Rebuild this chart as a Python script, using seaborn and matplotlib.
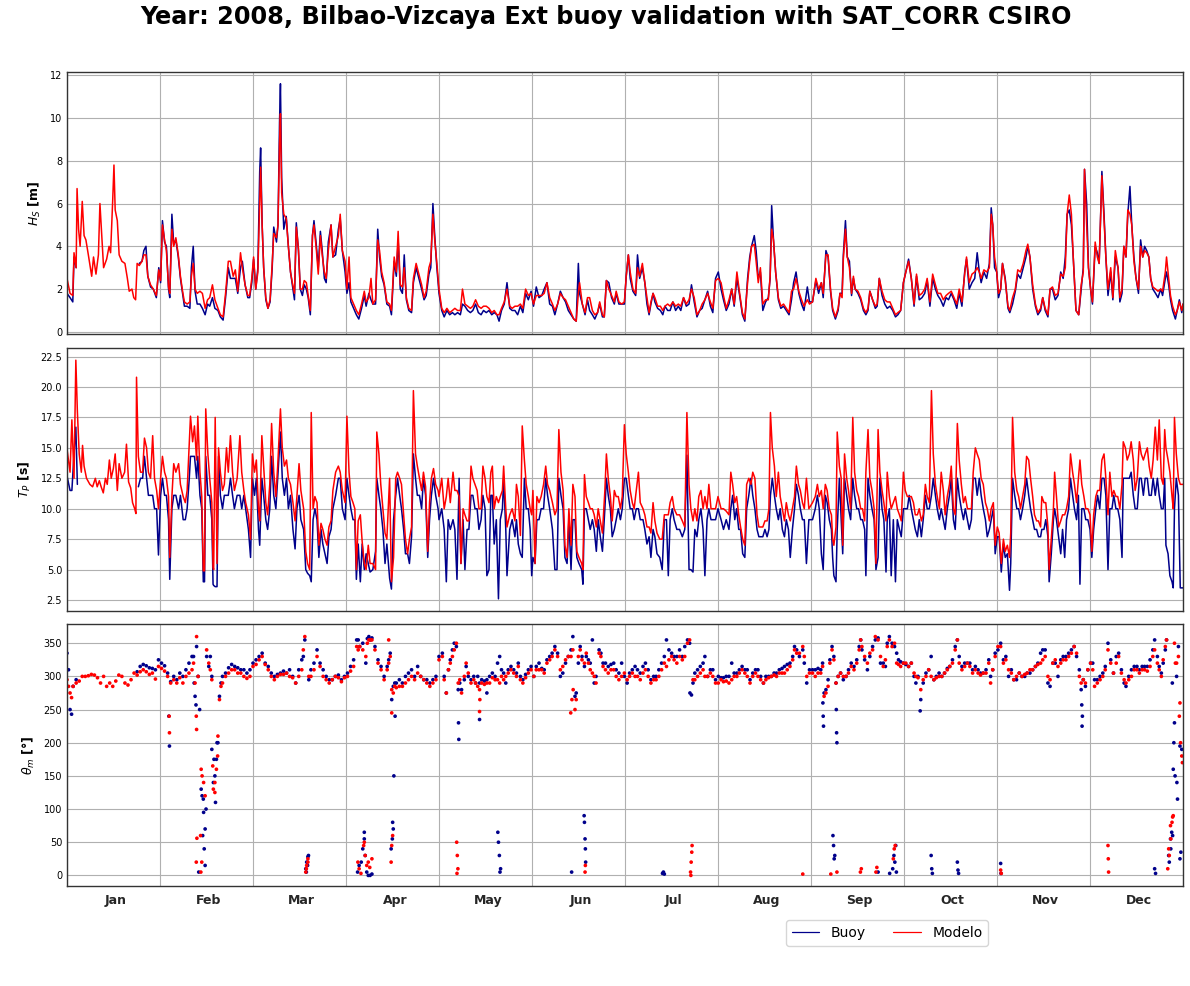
"""Bilbao-Vizcaya Ext buoy validation 2008: Hs, Tp and mean direction, buoy vs model."""
import numpy as np
import pandas as pd

import matplotlib
matplotlib.use("Agg")
import matplotlib.pyplot as plt
from matplotlib.lines import Line2D
import seaborn as sns

nan = np.nan

# ---------------------------------------------------------------------------
# data (time in day-of-year, 0..366)
# ---------------------------------------------------------------------------
t_hs = [
    0, 1, 1.9, 2.3, 3, 3.3, 3.8, 4.3, 5, 5.6,
    6.2, 7, 8.1, 8.7, 9.5, 10.3, 10.8, 12, 13, 13.8,
    14.3, 15, 15.4, 15.8, 16.5, 17.1, 18, 19, 19.8, 20.4,
    21.3, 21.9, 22.5, 23, 23.7, 24.6, 25.2, 25.9, 26.5, 27.4,
    28.3, 29.3, 30.1, 30.7, 31.3, 32, 32.6, 33.3, 33.7, 34.4,
    35, 35.7, 36.5, 37.2, 37.9, 38.5, 39.4, 40.3, 40.8, 41.4,
    42, 42.7, 43.6, 44.4, 45.3, 46.1, 46.8, 47.7, 48.5, 49.5,
    50.3, 51.2, 52, 52.9, 53.6, 54.5, 55.2, 56, 56.9, 57.5,
    58.4, 59.3, 59.9, 60.6, 61.2, 61.9, 62.6, 63.2, 63.5, 64,
    64.5, 65.2, 65.9, 66.6, 67.3, 67.8, 68.7, 69.2, 69.7, 70,
    70.4, 71.1, 71.9, 72.6, 73.3, 73.9, 74.6, 75.2, 75.9, 76.5,
    77.2, 77.8, 78.5, 79.1, 79.8, 80.5, 81, 81.8, 82.4, 83.1,
    83.7, 84.4, 85, 85.7, 86.6, 87.2, 88.1, 89, 89.6, 90.3,
    91.2, 91.8, 92.5, 93.1, 94, 94.9, 95.7, 96.6, 97.5, 98.1,
    99, 99.7, 100.3, 101.2, 101.9, 102.5, 103.2, 104, 104.9, 105.8,
    106.4, 107.3, 108, 108.6, 109.3, 110, 110.6, 111.3, 112.1, 113,
    113.6, 114.5, 115.4, 116.3, 117.1, 117.8, 118.7, 119.3, 120, 120.6,
    121.3, 122,
    122.9, 123.7, 124.6, 125.5, 126.4, 127.2, 128.1, 129, 129.7, 130.5,
    131.4, 132.3, 133.1, 134, 134.9, 135.8, 136.6, 137.5, 138.4, 139.3,
    140.1, 141, 141.7, 142.5, 143.4, 144.3, 145.2, 146, 146.9, 147.8,
    148.7, 149.5, 150.4, 151.3, 152.2, 153, 153.9, 154.8, 155.7, 156.5,
    157.4, 158.3, 159.2, 160, 160.9, 161.8, 162.7, 163.5, 164.4, 165.3,
    166.2, 167, 167.7, 168.1, 169, 169.9, 170.7, 171.4, 172.3, 173.1,
    174, 174.7, 175.6, 176.2, 176.9, 177.7, 178.6, 179.5, 180.1, 181,
    181.9, 182.8, 183.4, 184.1, 184.7, 185.6, 186.5, 187.1, 187.8, 188.7,
    189.5, 190.2, 190.9, 191.5, 192.2, 192.8, 193.7, 194.6, 195.4, 196.1,
    197, 197.8, 198.7, 199.6, 200.5, 201.3, 202.2, 203.1, 204, 204.8,
    205.7, 206.6, 207.5, 208.3, 209.2, 210.1, 211, 211.8, 212.7, 213.6,
    214.5, 215.3, 216.2, 217.1, 218, 218.8, 219.7, 220.6, 221.5, 222.3,
    223.2, 223.9, 224.5, 225.4, 226, 226.7, 227.4, 228.2, 229.1, 230,
    230.6, 231.1, 231.7, 232.4, 233.3, 234.1, 235, 235.9, 236.8, 237.6,
    238.3, 239.1, 240, 240.9, 241.7, 242.8, 243.5,
    244.5, 245.6, 246.5, 247.4, 248, 248.9, 249.6, 250.4, 251.1, 252,
    252.9, 253.5, 254.2, 254.6, 255.3, 255.9, 256.6, 257.3, 257.9, 258.5,
    259.4, 260.3, 261.2, 262, 262.7, 263.3, 264.2, 265.1, 265.7, 266.4,
    267.3, 268.2, 269, 269.9, 270.8, 271.7, 272.5, 273.4, 274.3, 275.1,
    276, 276.9, 277.8, 278.6, 279.5, 280.4, 281.3, 282.1, 283, 283.9,
    284.8, 285.6, 286.5, 287.4, 288.3, 289.1, 290, 290.9, 291.8, 292.6,
    293.5, 294.4, 295, 295.9, 296.8, 297.7, 298.5, 299.2, 299.8, 300.7,
    301.6, 302.5, 303.1, 303.6, 304.2, 304.9, 305.5, 306.2, 306.8, 307.7,
    308.6, 309.2, 310.1, 311, 311.8, 312.7, 313.6, 314.5, 315.1, 315.8,
    316.7, 317.6, 318.4, 319.3, 320, 320.8, 321.7, 322.4, 323.2, 324.1,
    325, 325.9, 326.7, 327.4, 328, 328.7, 329.4, 330, 330.9, 331.8,
    332.6, 333.3, 333.7, 334.4, 335, 335.7, 336.3, 337.2, 337.9, 338.5,
    338.9, 339.4, 340.1, 340.7, 341.4, 342.3, 343, 343.8, 344.7, 345.3,
    346, 346.6, 347.3, 347.9, 348.6, 349.2, 349.9, 350.6, 351.4, 352.1,
    352.8, 353.4, 354.1, 354.8, 355.4, 356.1, 357, 357.8, 358.7, 359.3,
    360.2, 360.6, 361.3, 361.9, 362.6, 363.5, 364.1, 364.8, 365.6, 366,
]
hs_buoy = [
    1.8, 1.6, 1.4, 3.5, 3.0, nan, nan, nan, nan, nan,
    nan, nan, nan, nan, nan, nan, nan, nan, nan, nan,
    nan, nan, nan, nan, nan, nan, nan, nan, nan, nan,
    nan, nan, nan, nan, 3.2, 3.3, 3.8, 4.0, 2.6, 2.1,
    2.0, 1.6, 3.0, 2.3, 5.2, 4.2, 4.0, 2.0, 1.6, 5.5,
    4.1, 4.3, 3.5, 2.5, 1.8, 1.2, 1.2, 1.1, 3.0, 4.0,
    1.9, 1.3, 1.3, 1.1, 0.8, 1.3, 1.2, 1.6, 1.1, 1.0,
    0.7, 0.55, 1.6, 3.0, 2.5, 2.5, 2.5, 1.8, 3.0, 3.3,
    2.2, 1.6, 1.6, 2.3, 3.4, 2.0, 3.0, 7.5, 8.6, 5.0,
    3.0, 1.5, 1.1, 1.4, 3.0, 4.9, 4.2, 5.0, 9.8, 11.6,
    7.2, 4.8, 5.4, 4.0, 2.8, 2.2, 1.5, 5.1, 3.8, 2.0,
    1.7, 2.2, 2.0, 1.6, 0.8, 4.5, 5.2, 4.0, 3.0, 4.7,
    3.8, 2.5, 2.3, 4.2, 5.0, 3.5, 3.6, 4.8, 5.3, 3.8,
    2.8, 1.8, 2.3, 1.4, 1.1, 0.8, 0.6, 1.1, 1.7, 1.2,
    1.8, 1.5, 1.3, 1.3, 4.8, 3.5, 2.6, 2.2, 1.3, 1.2,
    0.8, 3.3, 2.6, 4.3, 2.0, 1.8, 3.6, 1.5, 1.0, 0.9,
    2.3, 3.0, 2.5, 2.0, 1.5, 1.7, 2.7, 3.0, 6.0, 4.5,
    3.0, 1.8,
    1.0, 0.7, 1.0, 0.8, 0.9, 0.8, 0.9, 0.8, 1.3, 1.2,
    1.0, 0.9, 1.0, 1.3, 0.9, 0.8, 1.0, 0.9, 1.0, 0.8,
    0.9, 0.8, 0.5, 1.0, 1.3, 2.3, 1.1, 1.0, 1.0, 0.8,
    1.2, 0.9, 1.8, 1.5, 1.9, 1.2, 2.1, 1.6, 1.7, 2.0,
    2.3, 1.3, 1.2, 0.8, 1.3, 1.9, 1.6, 1.4, 1.0, 0.8,
    0.6, 0.5, 3.2, 1.8, 1.3, 0.8, 1.5, 1.0, 0.8, 0.6,
    0.9, 1.3, 0.7, 0.7, 2.4, 2.3, 1.6, 1.3, 1.8, 1.3,
    1.3, 1.3, 2.6, 3.6, 2.5, 1.9, 1.7, 3.6, 2.5, 3.0,
    2.3, 1.3, 0.8, 1.3, 1.8, 1.4, 1.1, 1.0, 0.8, 1.2,
    1.0, 1.0, 1.4, 1.0, 1.2, 1.0, 1.6, 1.2, 1.3, 2.2,
    1.4, 0.7, 1.0, 1.1, 1.5, 1.9, 1.2, 0.9, 2.5, 2.8,
    2.0, 1.5, 1.0, 1.3, 2.0, 1.2, 2.5, 1.7, 0.8, 0.5,
    2.5, 3.5, 4.0, 4.5, 3.8, 2.5, 2.8, 1.0, 1.4, 1.6,
    2.5, 5.9, 4.3, 2.8, 1.5, 1.1, 1.2, 1.0, 0.8, 1.5,
    2.3, 2.8, 1.8, 1.3, 1.0, 2.1, 1.4,
    1.4, 2.4, 1.8, 2.3, 1.6, 3.8, 3.5, 1.9, 1.0, 0.6,
    1.0, 1.8, 1.8, 3.6, 5.2, 3.5, 3.3, 1.7, 2.5, 2.0,
    1.8, 1.5, 1.0, 0.8, 1.0, 1.9, 1.5, 1.1, 1.2, 2.5,
    1.7, 1.3, 1.1, 1.2, 1.0, 0.7, 0.8, 1.0, 2.3, 2.8,
    3.4, 2.5, 1.2, 2.6, 1.5, 1.6, 1.8, 2.4, 1.2, 2.5,
    2.0, 1.7, 1.5, 1.2, 1.6, 1.5, 1.8, 1.5, 1.1, 1.8,
    1.2, 2.8, 3.4, 2.0, 2.3, 2.5, 3.7, 2.8, 2.3, 2.8,
    2.5, 3.2, 5.8, 5.0, 3.0, 2.8, 1.6, 2.0, 3.2, 2.5,
    1.1, 0.9, 1.3, 1.9, 2.7, 2.5, 3.0, 3.5, 4.0, 3.5,
    2.0, 1.2, 0.8, 1.0, 1.6, 1.0, 0.7, 2.0, 2.0, 1.5,
    1.7, 2.8, 2.5, 3.5, 5.5, 5.7, 5.0, 3.5, 1.0, 0.8,
    2.0, 3.0, 7.6, 6.0, 3.0, 2.0, 1.3, 4.0, 3.7, 3.2,
    5.0, 7.5, 5.5, 3.5, 1.7, 2.8, 1.5, 3.5, 3.0, 1.4,
    1.8, 4.0, 3.5, 5.5, 6.8, 5.0, 3.5, 2.5, 1.8, 4.3,
    3.5, 4.0, 3.8, 3.5, 2.5, 2.0, 1.8, 1.6, 2.0, 1.7,
    2.5, 2.8, 2.2, 1.5, 1.0, 0.6, 1.0, 1.5, 0.9, 1.3,
]
hs_model = [
    2.5, 1.8, 1.7, 3.7, 3.0, 6.7, 4.8, 4.0, 6.1, 4.5,
    4.3, 3.6, 2.6, 3.5, 2.7, 3.6, 6.0, 3.0, 3.4, 4.0,
    3.7, 6.2, 7.8, 5.7, 5.2, 3.6, 3.3, 3.2, 2.5, 1.9,
    2.0, 1.6, 1.5, 3.2, 3.1, 3.3, 3.6, 3.6, 2.6, 2.2,
    2.0, 1.7, 2.9, 2.4, 5.0, 4.3, 3.8, 2.1, 1.8, 4.8,
    4.0, 4.4, 3.6, 2.6, 1.9, 1.4, 1.3, 1.4, 2.6, 3.2,
    2.0, 1.8, 1.9, 1.8, 1.1, 1.5, 1.6, 2.2, 1.5, 1.1,
    0.8, 0.7, 1.8, 3.3, 3.3, 2.6, 2.9, 1.9, 3.7, 3.0,
    2.2, 1.7, 1.7, 2.5, 3.5, 2.0, 2.8, 6.0, 7.7, 5.0,
    3.0, 1.6, 1.1, 1.5, 3.2, 4.6, 4.4, 5.0, 8.8, 10.2,
    6.5, 5.5, 5.3, 4.0, 2.8, 2.3, 1.8, 4.9, 3.9, 2.0,
    2.0, 2.4, 2.3, 1.7, 1.0, 4.5, 5.0, 3.8, 2.7, 4.5,
    3.6, 2.8, 2.5, 3.8, 5.0, 3.5, 4.0, 4.5, 5.5, 3.8,
    3.3, 2.0, 3.5, 1.6, 1.3, 1.0, 0.8, 1.3, 1.9, 1.4,
    1.6, 2.5, 1.3, 1.5, 4.3, 3.8, 2.8, 2.3, 1.4, 1.3,
    1.0, 3.5, 2.8, 4.7, 2.2, 2.1, 3.0, 1.6, 1.1, 1.0,
    2.5, 3.2, 2.7, 2.2, 1.6, 1.9, 3.0, 3.3, 5.5, 4.3,
    3.2, 2.0,
    1.1, 0.9, 1.1, 0.9, 1.0, 1.1, 1.0, 1.0, 2.0, 1.3,
    1.2, 1.1, 1.2, 1.5, 1.2, 1.1, 1.2, 1.2, 1.1, 0.9,
    1.0, 0.8, 0.8, 1.1, 1.4, 2.0, 1.2, 1.1, 1.2, 1.2,
    1.3, 1.1, 2.0, 1.7, 1.8, 1.3, 1.7, 1.7, 1.7, 1.8,
    2.3, 1.6, 1.3, 1.0, 1.3, 1.8, 1.6, 1.5, 1.2, 0.9,
    0.6, 0.5, 1.8, 2.3, 1.3, 0.9, 1.6, 1.6, 1.0, 0.8,
    0.9, 1.4, 0.8, 0.7, 2.4, 2.0, 1.7, 1.4, 1.9, 1.4,
    1.3, 1.4, 2.6, 3.6, 2.8, 2.0, 1.8, 3.0, 2.6, 3.2,
    2.3, 1.6, 0.9, 1.4, 1.8, 1.6, 1.2, 1.2, 1.0, 1.2,
    1.3, 1.2, 1.4, 1.2, 1.3, 1.2, 1.6, 1.3, 1.5, 2.0,
    1.6, 0.8, 1.0, 1.3, 1.5, 1.8, 1.4, 1.1, 2.4, 2.5,
    2.3, 1.7, 1.1, 1.5, 2.0, 1.3, 2.8, 1.8, 0.9, 0.6,
    2.3, 3.3, 4.0, 4.1, 3.3, 2.3, 3.0, 1.3, 1.5, 1.5,
    2.6, 4.8, 4.3, 2.8, 1.6, 1.2, 1.3, 1.1, 0.9, 1.9,
    2.0, 2.5, 1.9, 1.5, 1.2, 1.5, 1.3,
    1.4, 2.5, 2.0, 2.3, 1.8, 3.6, 3.6, 2.0, 1.1, 0.7,
    1.1, 1.8, 1.6, 3.4, 4.8, 3.5, 3.0, 1.8, 2.6, 2.0,
    1.9, 1.6, 1.1, 0.9, 1.1, 1.9, 1.5, 1.2, 1.3, 2.5,
    1.9, 1.5, 1.4, 1.4, 1.1, 0.8, 0.9, 1.0, 2.3, 2.8,
    3.3, 2.5, 1.3, 2.7, 1.7, 1.8, 2.0, 2.5, 1.4, 2.7,
    2.2, 1.8, 1.8, 1.5, 1.7, 1.8, 1.9, 1.6, 1.3, 2.0,
    1.4, 2.7, 3.5, 2.3, 2.7, 2.8, 3.0, 2.8, 2.5, 2.9,
    2.8, 3.0, 5.5, 5.0, 3.5, 2.8, 1.8, 2.0, 3.2, 2.4,
    1.2, 1.0, 1.6, 2.0, 2.9, 2.8, 3.2, 3.8, 4.1, 3.5,
    2.2, 1.3, 0.9, 1.1, 1.6, 1.1, 0.8, 2.0, 2.1, 1.7,
    1.8, 2.7, 2.6, 3.0, 5.5, 6.4, 5.5, 3.5, 1.0, 0.8,
    2.2, 2.8, 7.6, 5.0, 3.0, 2.0, 1.4, 4.2, 3.5, 3.2,
    5.0, 7.3, 5.3, 3.5, 2.0, 3.0, 1.6, 3.8, 3.0, 1.6,
    2.0, 4.0, 3.5, 5.7, 5.5, 5.0, 3.3, 2.5, 2.0, 4.0,
    3.5, 3.8, 3.7, 3.5, 2.5, 2.1, 2.0, 1.9, 2.0, 1.9,
    2.8, 3.5, 2.5, 1.7, 1.2, 0.8, 1.0, 1.4, 1.0, 1.3,
]

t_tp = [
    0, 1, 1.6, 2.3, 2.9, 3.4, 4, 4.7, 5.1, 5.6,
    6.4, 7.5, 8.4, 9.3, 9.9, 10.6, 11.2, 11.9, 12.6, 13.2,
    13.9, 14.5, 15.2, 15.8, 16.5, 17.1, 18, 18.9, 19.5, 20.2,
    20.9, 21.5, 22.2, 22.6, 22.8, 23.4, 24.1, 24.8, 25.4, 26.1,
    26.7, 27.4, 28.1, 28.7, 29.4, 30, 30.7, 31.3, 32, 32.6,
    33.3, 33.7, 34.4, 35, 35.7, 36.6, 37.2, 38.1, 38.8, 39.4,
    40.1, 40.5, 41.2, 41.8, 42.5, 42.9, 43.6, 44.2, 44.7, 45.1,
    45.5, 46.2, 46.8, 47.5, 47.9, 48.1, 48.6, 49.2, 49.7, 50.3,
    51, 51.6, 52.3, 52.9, 53.6, 54.3, 54.9, 55.8, 56.7, 57.3,
    58, 58.6, 59.5, 60.2, 60.8, 61.5, 62.1, 62.8, 63.2, 63.9,
    64.5, 65.2, 65.8, 66.5, 67.1, 67.8, 68.5, 69.1, 70, 70.6,
    71.3, 72, 72.6, 73.3, 74.1, 74.8, 75.4, 76.1, 76.7, 77.6,
    78.3, 78.9, 79.6, 80.1, 80.7, 81.3, 82, 82.6, 83.3, 83.9,
    84.6, 85.3, 85.9, 86.6, 87.2, 88.1, 89, 89.6, 90.3, 91.2,
    91.8, 92.5, 93.1, 93.8, 94.4, 94.9, 95.5, 96.2, 96.8, 97.5,
    98.1, 98.8, 99.4, 100.3, 101.2, 101.6, 102.3, 102.9, 103.6, 104.3,
    104.9, 105.8, 106.4, 107.1, 107.8, 108.4, 109.1, 109.7, 110.4, 111,
    111.7, 112.3, 113, 113.6, 114.3, 114.9, 115.6, 116.3, 116.9, 117.6,
    118.3, 118.9, 119.5, 120.2, 120.9, 121.7,
    122, 122.9, 123.7, 124.4, 125, 125.7, 126.6, 127.2, 127.9, 128.6,
    129.2, 129.9, 130.5, 131.2, 131.8, 132.5, 133.1, 133.8, 134.5, 135.1,
    135.8, 136.4, 137.1, 137.7, 138.4, 139, 139.5, 140.1, 140.8, 141.5,
    142.1, 142.8, 143.2, 143.9, 144.3, 145.2, 146, 146.9, 147.4, 148,
    148.7, 149.3, 150, 150.6, 151.3, 151.9, 152.4, 152.8, 153.5, 154.1,
    154.8, 155.5, 156.3, 157, 157.6, 158.3, 159.2, 160, 160.7, 161.3,
    162, 162.7, 163.3, 164, 164.6, 165.3, 165.9, 166.6, 167.2, 167.9,
    168.8, 169.2, 169.7, 170.3, 171, 171.6, 172.3, 172.9, 173.6, 174.2,
    174.9, 175.6, 176.4, 176.9, 177.5, 178.2, 178.8, 179.5, 180.1, 180.8,
    181.5, 182.1, 182.8, 183.4, 184.1, 184.7, 185.4, 186, 186.7, 187.4,
    188, 188.9, 189.5, 190.2, 190.9, 191.5, 192.2, 192.8, 193.5, 194.4,
    195.2, 195.9, 196.6, 197.2, 197.8, 198.5, 199.1, 200, 200.9, 201.8,
    202.6, 203.3, 204, 204.6, 205.3, 205.9, 206.6, 207.2, 207.9, 208.6,
    209.2, 209.9, 210.5, 211.2, 212, 212.7, 213.5, 214.5, 215.3, 216.2,
    217.1, 217.7, 218.3, 219, 219.6, 220.3, 220.9, 221.6, 222.3, 222.9,
    223.6, 224.3, 224.9, 225.6, 226.3, 226.9, 227.6, 228.2, 228.9, 229.6,
    230.2, 230.7, 231.3, 232, 232.6, 233.3, 233.9, 234.6, 235.3, 235.9,
    236.6, 237.2, 237.9, 238.6, 239.2, 239.9, 240.5, 241.2, 241.8, 242.5,
    243.3,
    244.5, 245.4, 246.1, 246.7, 247.4, 248, 248.7, 249.3, 250, 250.7,
    251.1, 251.5, 252.2, 252.6, 253.3, 253.9, 254.4, 255, 255.7, 256.3,
    257, 257.7, 258.3, 259, 259.6, 260.3, 260.9, 261.6, 262, 262.7,
    263.3, 264, 264.7, 265.3, 266, 266.6, 267.3, 267.9, 268.6, 269,
    269.7, 270.3, 271, 271.7, 272.3, 273, 273.6, 274.3, 274.9, 275.6,
    276.2, 276.9, 277.6, 278.2, 278.9, 279.5, 280.2, 280.8, 281.5, 282.1,
    282.8, 283.5, 284.1, 284.8, 285.4, 286.1, 286.7, 287.4, 288, 288.7,
    289.4, 290, 290.7, 291.3, 292, 292.6, 293.3, 294, 294.6, 295.3,
    295.9, 296.6, 297.2, 297.9, 298.5, 299.2, 299.8, 300.5, 301.2, 301.8,
    302.5, 303.1, 303.8, 304.4, 305.1, 305.7, 306.4, 307.1, 307.7, 308.4,
    309.1, 309.5, 310.1, 310.8, 311.5, 312.1, 312.7, 313.4, 314.1, 314.7,
    315.4, 316, 316.7, 317.3, 318, 318.6, 319.3, 319.7, 320.4, 321,
    321.7, 322.1, 322.8, 323.5, 323.9, 324.5, 325.2, 325.9, 326.5, 327.2,
    327.8, 328.5, 329.1, 329.8, 330.4, 331.1, 331.7, 332.2, 332.8, 333.5,
    334.1, 334.8, 335.5, 336.1, 336.7, 337.4, 338, 338.7, 339.4, 340.1,
    340.7, 341.4, 342, 342.7, 343.3, 344, 344.6, 345.3, 346, 346.4,
    347.1, 347.7, 348.4, 349, 349.7, 350.3, 351, 351.7, 352.3, 353,
    353.6, 354.3, 354.9, 355.6, 356.2, 356.9, 357.6, 358.2, 358.9, 359.5,
    360, 360.4, 361.1, 361.7, 362.4, 362.8, 363.2, 363.8, 364.5, 365.1, 366,
]
tp_buoy = [
    12.7, 11.5, 11.5, 14.5, 16.7, 12.0, nan, nan, nan, nan,
    nan, nan, nan, nan, nan, nan, nan, nan, nan, nan,
    nan, nan, nan, nan, nan, nan, nan, nan, nan, nan,
    nan, nan, nan, nan, nan, 11.8, 12.5, 12.5, 14.3, 12.5,
    11.1, 11.1, 11.1, 10.0, 10.0, 6.2, 11.1, 12.5, 11.1, 11.1,
    9.1, 4.2, 10.0, 11.1, 11.1, 10.0, 11.1, 9.1, 9.1, 10.0,
    12.5, 14.3, 14.3, 14.3, 12.5, 14.3, 11.1, 10.0, 4.0, 4.0,
    14.3, 11.1, 11.1, 9.1, 3.8, 3.7, 3.6, 3.6, 14.3, 11.1,
    10.0, 11.1, 11.1, 11.1, 12.5, 11.1, 10.0, 11.1, 11.1, 10.0,
    11.1, 10.0, 8.3, 6.0, 12.5, 11.1, 12.5, 8.3, 7.0, 12.5,
    11.1, 9.1, 8.3, 10.0, 14.3, 11.1, 10.0, 12.5, 16.3, 12.5,
    11.1, 12.5, 10.0, 11.1, 8.3, 6.7, 10.0, 11.1, 9.1, 8.3,
    5.0, 4.7, 4.5, 4.0, 9.1, 10.0, 9.1, 6.0, 8.3, 7.1,
    6.3, 5.5, 7.7, 8.3, 10.0, 11.1, 12.5, 12.5, 10.0, 9.1,
    12.5, 11.1, 10.0, 9.1, 9.1, 4.2, 7.1, 4.0, 7.1, 5.0,
    6.3, 5.5, 4.8, 5.0, 6.5, 12.5, 11.1, 10.0, 8.3, 5.5,
    7.1, 4.3, 3.4, 9.1, 11.1, 12.5, 11.1, 10.0, 8.3, 6.3,
    6.3, 5.5, 7.7, 14.5, 12.5, 11.1, 11.1, 10.0, 12.5, 11.1,
    6.0, 9.1, 11.1, 12.5, 11.1, 10.0,
    9.1, 10.0, 8.3, 4.0, 9.1, 8.3, 9.1, 8.3, 4.2, 12.5,
    5.5, 9.1, 5.0, 8.3, 8.3, 11.1, 11.1, 10.0, 10.0, 8.3,
    9.1, 11.1, 10.0, 4.5, 5.0, 11.1, 11.1, 7.1, 9.1, 2.6,
    9.1, 10.0, 12.5, 8.3, 4.5, 8.3, 9.1, 7.7, 9.1, 7.1,
    6.3, 6.0, 12.5, 10.0, 10.0, 8.3, 4.5, 6.0, 5.5, 9.1,
    9.1, 10.0, 10.0, 12.5, 11.1, 10.0, 8.3, 5.0, 5.0, 12.5,
    11.1, 10.0, 6.0, 5.5, 9.1, 5.0, 9.1, 9.1, 6.0, 5.5,
    5.0, 3.8, 10.0, 10.0, 9.1, 8.3, 9.1, 8.3, 6.5, 9.1,
    7.7, 6.5, 10.0, 12.5, 11.1, 10.0, 7.7, 8.3, 9.1, 10.0,
    9.1, 10.0, 12.5, 12.5, 11.1, 10.0, 10.0, 9.1, 10.0, 10.0,
    9.1, 9.1, 8.3, 7.1, 7.7, 6.0, 8.3, 7.7, 6.3, 6.0,
    5.0, 9.1, 9.1, 4.5, 9.1, 10.0, 9.1, 8.3, 8.3, 7.7,
    8.3, 14.4, 5.0, 5.0, 4.8, 8.3, 7.7, 9.1, 10.0, 8.3,
    4.5, 9.1, 10.0, 9.1, 9.1, 9.1, 10.0, 9.1, 8.3, 9.1,
    8.3, 10.0, 11.1, 9.1, 10.0, 8.3, 8.3, 6.3, 6.0, 10.0,
    11.1, 12.5, 11.1, 10.0, 8.3, 7.7, 7.7, 7.7, 8.3, 7.7,
    8.3, 11.1, 12.5, 11.1, 10.0, 9.1, 10.0, 8.3, 7.7, 9.1,
    8.3, 6.0, 8.3, 10.0, 12.0, 11.1, 10.0, 9.1, 9.1, 5.5,
    9.1,
    9.1, 10.0, 11.1, 10.0, 6.3, 5.0, 11.1, 10.5, 9.1, 8.3,
    6.0, 4.5, 4.0, 8.3, 12.5, 9.1, 6.3, 12.5, 11.1, 10.0,
    9.1, 12.5, 11.1, 10.0, 10.0, 9.1, 9.1, 8.3, 4.5, 12.5,
    11.1, 10.0, 9.1, 5.0, 6.0, 12.5, 10.0, 9.1, 4.8, 9.1,
    10.0, 4.5, 9.1, 4.0, 9.1, 8.3, 7.7, 10.0, 10.0, 10.0,
    11.1, 10.0, 9.1, 8.3, 7.7, 9.1, 7.7, 9.1, 11.1, 10.0,
    10.0, 11.1, 12.5, 11.1, 10.0, 9.1, 10.0, 9.1, 8.3, 10.0,
    11.1, 12.5, 9.1, 8.3, 12.5, 11.1, 10.0, 9.1, 10.0, 9.1,
    8.3, 9.1, 12.5, 12.5, 11.1, 12.5, 11.1, 10.0, 9.1, 7.7,
    8.3, 9.1, 10.0, 6.3, 7.7, 7.7, 4.8, 7.1, 6.0, 6.3,
    3.3, 5.5, 12.5, 11.1, 10.0, 10.0, 9.1, 10.0, 11.1, 12.5,
    11.1, 10.0, 9.1, 8.3, 8.3, 7.7, 7.7, 8.3, 8.3, 9.1,
    7.7, 4.0, 6.3, 9.1, 10.0, 9.1, 7.7, 6.3, 8.3, 6.0,
    9.1, 10.0, 12.5, 11.1, 10.0, 9.1, 11.1, 3.8, 10.0, 10.0,
    9.1, 9.1, 8.3, 6.0, 8.3, 10.0, 11.1, 10.0, 12.5, 12.5,
    11.1, 5.0, 10.0, 10.0, 11.1, 10.0, 10.0, 9.1, 6.0, 12.5,
    12.5, 12.5, 12.5, 13.0, 11.1, 10.0, 10.0, 12.5, 12.5, 11.1,
    12.5, 12.5, 11.1, 11.1, 12.5, 11.1, 12.5, 11.1, 10.0, 10.0,
    12.5, 7.0, 6.3, 4.5, 4.0, 3.5, 10.0, 12.5, 11.1, 3.5, 3.5,
]
tp_model = [
    14.9, 13.0, 17.3, 12.5, 22.2, 18.0, 14.5, 13.0, 15.2, 13.5,
    12.5, 12.0, 11.8, 12.5, 11.8, 12.3, 11.8, 11.3, 12.5, 12.0,
    14.0, 12.5, 13.3, 14.5, 11.5, 13.7, 12.5, 13.0, 15.3, 12.2,
    11.7, 10.5, 10.0, 9.6, 20.8, 14.3, 13.0, 13.0, 15.8, 15.0,
    13.0, 12.5, 16.0, 12.5, 11.5, 10.0, 12.5, 14.3, 13.0, 12.5,
    11.0, 6.0, 11.0, 13.7, 13.0, 13.7, 12.0, 11.0, 10.5, 11.5,
    15.5, 17.6, 15.5, 16.8, 14.0, 17.6, 13.0, 11.0, 4.9, 4.9,
    18.2, 14.5, 12.5, 10.5, 5.2, 5.0, 17.5, 5.5, 15.0, 13.0,
    11.5, 12.0, 15.0, 13.0, 16.0, 13.0, 11.5, 12.5, 16.0, 13.0,
    11.5, 10.5, 9.5, 7.5, 14.5, 13.0, 14.0, 10.0, 9.0, 16.0,
    13.5, 10.5, 9.5, 12.0, 17.0, 13.0, 11.0, 13.5, 18.2, 15.0,
    13.5, 14.0, 12.5, 12.0, 10.5, 9.0, 11.0, 13.7, 11.5, 10.0,
    6.5, 5.5, 5.0, 17.9, 10.0, 11.0, 10.5, 7.0, 8.8, 8.3,
    7.5, 7.0, 8.5, 9.0, 11.5, 13.0, 13.5, 13.0, 11.5, 10.5,
    17.6, 13.0, 11.0, 10.5, 10.0, 5.0, 9.0, 9.5, 7.3, 5.5,
    5.0, 7.0, 5.5, 5.5, 5.0, 16.3, 14.5, 12.0, 10.0, 8.0,
    7.5, 12.5, 4.0, 6.0, 12.5, 13.0, 12.5, 12.0, 9.5, 7.5,
    6.3, 7.5, 8.5, 19.7, 14.5, 13.5, 12.5, 11.5, 13.0, 11.8,
    6.5, 10.5, 12.5, 13.3, 12.0, 11.5,
    11.0, 12.5, 10.0, 11.0, 12.5, 10.5, 13.0, 11.5, 11.5, 11.0,
    5.5, 10.0, 9.5, 9.0, 9.0, 13.5, 12.5, 12.0, 11.5, 10.0,
    10.0, 13.5, 12.5, 11.0, 10.5, 13.0, 13.5, 10.0, 11.0, 10.5,
    11.0, 11.5, 13.5, 10.0, 8.5, 9.5, 10.0, 9.0, 12.0, 11.0,
    7.8, 16.8, 14.0, 12.0, 11.0, 10.0, 9.5, 11.5, 5.5, 11.0,
    10.5, 11.0, 12.0, 13.5, 12.0, 11.5, 10.5, 9.5, 10.0, 16.5,
    13.0, 11.5, 7.0, 6.0, 10.0, 7.0, 12.0, 11.0, 6.5, 6.0,
    5.5, 5.0, 12.8, 11.0, 10.5, 10.0, 10.0, 9.5, 8.5, 10.0,
    9.0, 8.0, 11.5, 14.5, 12.5, 11.0, 9.0, 11.5, 11.0, 11.0,
    10.0, 11.0, 16.9, 14.5, 13.0, 11.5, 10.5, 10.0, 11.5, 13.0,
    10.5, 10.0, 9.5, 8.5, 8.5, 8.0, 10.5, 9.0, 8.0, 7.5,
    7.5, 9.5, 9.5, 9.5, 10.5, 11.0, 10.0, 9.5, 9.5, 9.0,
    8.5, 17.9, 12.0, 10.0, 9.0, 10.0, 9.0, 11.0, 11.5, 10.0,
    11.0, 10.0, 12.0, 10.0, 10.0, 10.0, 11.0, 10.0, 10.0, 9.8,
    9.5, 13.0, 12.0, 10.5, 11.0, 9.5, 8.5, 7.5, 7.0, 12.0,
    12.5, 12.0, 13.0, 12.5, 9.5, 8.5, 8.5, 8.5, 9.0, 9.0,
    10.0, 17.9, 15.0, 13.5, 11.0, 13.0, 11.0, 10.0, 9.0, 10.5,
    9.5, 9.0, 10.0, 11.0, 13.5, 12.0, 11.5, 10.5, 10.0, 12.5,
    10.0,
    10.5, 11.0, 12.0, 11.0, 11.5, 10.0, 12.0, 11.5, 10.0, 9.5,
    7.5, 7.0, 8.5, 16.3, 13.5, 12.5, 7.0, 14.5, 12.5, 11.5,
    10.0, 17.5, 13.0, 11.5, 11.0, 10.0, 10.0, 9.0, 13.0, 16.5,
    12.5, 11.5, 10.0, 5.5, 16.5, 13.0, 11.5, 10.5, 9.0, 13.0,
    11.0, 10.0, 10.5, 11.0, 10.0, 9.5, 9.0, 13.0, 11.5, 11.0,
    11.0, 11.0, 10.5, 9.5, 9.5, 10.0, 9.0, 9.5, 12.0, 11.0,
    10.5, 19.7, 14.5, 12.0, 11.0, 10.0, 13.0, 11.5, 9.5, 11.0,
    12.0, 13.5, 10.0, 9.5, 17.0, 14.0, 12.0, 10.5, 11.0, 10.0,
    10.0, 10.0, 13.0, 15.0, 14.5, 14.0, 12.5, 12.0, 10.5, 10.0,
    9.0, 10.0, 10.5, 7.0, 8.5, 8.0, 5.5, 7.5, 6.5, 7.0,
    6.0, 8.0, 17.5, 13.0, 11.5, 11.0, 10.0, 11.0, 12.0, 14.3,
    14.0, 12.5, 11.0, 9.5, 9.0, 9.0, 8.5, 11.0, 10.5, 10.5,
    8.5, 5.0, 7.5, 10.0, 13.0, 11.0, 8.5, 9.0, 9.5, 9.5,
    10.0, 11.0, 14.5, 13.0, 12.0, 10.5, 12.5, 14.0, 12.0, 11.0,
    10.0, 10.0, 9.5, 6.5, 9.5, 11.0, 11.5, 11.5, 14.0, 14.5,
    12.5, 9.5, 13.0, 11.0, 11.5, 11.0, 11.0, 10.0, 12.0, 15.5,
    15.0, 14.0, 14.5, 15.5, 14.0, 11.5, 12.5, 15.5, 14.5, 14.0,
    14.5, 15.0, 13.5, 12.5, 14.0, 16.7, 14.0, 17.3, 12.5, 12.0,
    16.5, 15.0, 14.0, 13.0, 11.0, 10.0, 17.5, 14.5, 12.5, 12.0, 12.0,
]

t_dir = [
    0, 0.5, 1, 1.5, 2, 3, 4, 5, 6, 7,
    8, 9, 10, 11, 12, 13, 14, 15, 16, 17,
    18, 19, 20, 21, 22, 23, 24, 25, 26, 27,
    28, 29, 30, 31, 32, 33, 34, 35, 36, 37,
    38, 39, 40, 41, 41.5, 42, 42.5, 43, 44, 44.3,
    44.8, 45.3, 45.8, 46.5, 47, 47.5, 48, 48.5, 49, 49.5,
    50, 50.5, 51, 52, 53, 54, 55, 56, 57, 58,
    59, 60, 61, 62, 63, 64, 65, 66, 67, 68,
    69, 70, 71, 72, 73, 74, 75, 76, 77, 77.5,
    78, 78.3, 78.6, 79, 79.3, 80, 81, 82, 83, 84,
    85, 86, 87, 88, 89, 90, 91, 92, 93, 94,
    95, 95.5, 96, 97, 97.5, 98, 98.5, 99, 99.5, 100,
    101, 102, 103, 104, 105, 105.5, 106, 106.5, 107, 107.5,
    108, 109, 110, 111, 112, 113, 114, 115, 116, 117,
    118, 119, 120, 121, 122, 123.1, 123.7, 124.4, 125.1, 125.7,
    126.4, 127, 127.7, 128.3, 128.8, 129.4, 130.3, 130.9, 131.6, 132.5,
    133.4, 134, 134.7, 135.3, 136, 136.9, 137.7, 138.6, 139.5, 140.4,
    141.2, 141.9, 142.5, 143.2, 143.9, 144.7, 145.6, 146.5, 147.4, 148,
    148.7, 149.5, 150.4, 151.3, 152.2, 153.1, 153.9, 154.8, 155.7, 156.5,
    157.4, 158.3, 159.1, 160, 160.9, 161.8, 162.6, 163.5, 164.4, 165.3,
    165.9, 166.6, 167, 167.7, 168.3, 168.9, 169.7, 170.3, 171, 171.6,
    172.3, 172.9, 173.5, 174.5, 175.1, 175.8, 176.6, 177.5, 178.4, 179.3,
    180.1, 181, 181.9, 182.8, 183.7, 184.5, 185.4, 186.3, 187.1, 188,
    188.9, 189.7, 190.6, 191.5, 192.4, 193.2, 194.1, 195, 195.9, 196.6,
    197.4, 198.3, 199.1, 200, 200.9, 201.8, 202.6, 203.5, 204.2, 204.8,
    205.3, 205.9, 206.8, 207.7, 208.6, 209.2, 210.1, 211, 211.8, 212.7,
    213.6, 214.5, 215.3, 216.2, 217.1, 218, 218.8, 219.7, 220.5, 221.4,
    222.3, 223.1, 224, 224.9, 225.8, 226.6, 227.5, 228.4, 229.2, 230.1,
    231, 231.9, 232.7, 233.6, 234.5, 235.3, 236.2, 237.1, 238, 238.6,
    239.3, 240.2, 241.3, 241.8, 242.6, 243.5, 244.5, 245.4, 246.3, 247.2,
    247.8, 248.3, 248.9, 249.6, 250.2, 250.9, 251.5, 252.2, 252.9, 253.7,
    254.6, 255.5, 256.3, 257.2, 258.1, 259, 259.8, 260.3, 260.7, 261.6,
    262.5, 263.3, 264.2, 265.1, 266, 266.8, 267.7, 268.4, 269, 269.7,
    270.6, 271.4, 272.1, 272.7, 273.4, 274.3, 275.1, 276, 276.9, 277.8,
    278.4, 279.1, 280, 280.8, 281.7, 282.6, 283.4, 284.3, 285.1, 286,
    286.9, 287.8, 288.7, 289.5, 290.4, 291.3, 292, 292.6, 293.5, 294.4,
    295.3, 296.1, 297, 297.9, 298.8, 299.6, 300.5, 301.4, 302.3, 302.9,
    303.6, 304.4, 305.3, 306.2, 307.1, 307.9, 308.8, 309.7, 310.5, 311.4,
    312.3, 313.2, 314.1, 314.9, 315.8, 316.7, 317.6, 318.4, 319.3, 320,
    320.8, 321.7, 322.4, 323.3, 324.1, 325, 325.9, 326.7, 327.6, 328.5,
    329.4, 330.3, 331.1, 332, 332.6, 333.3, 334, 334.8, 335.7, 336.4,
    337, 337.9, 338.8, 339.7, 340.5, 341.4, 342.3, 343.2, 344.1, 344.9,
    345.8, 346.7, 347.3, 348.2, 349.1, 350, 350.9, 351.7, 352.6, 353.4,
    354.3, 355.2, 356.1, 356.7, 357.6, 358.2, 358.9, 359.5, 360.2, 360.6,
    361.3, 361.9, 362.6, 363.2, 363.9, 364.5, 365, 365.6,
]
dir_buoy = [
    335, 310, 250, 243, 285, 295, nan, nan, nan, nan,
    nan, nan, nan, nan, nan, nan, nan, nan, nan, nan,
    nan, nan, nan, nan, nan, 307, 315, 318, 316, 313,
    312, 310, 325, 320, 316, 305, 292, 300, 295, 305,
    300, 310, 320, 330, 330, 270, 345, 300, 130, 120,
    95, 70, 330, 315, 330, 300, 140, 150, 175, 200,
    270, 290, 300, 305, 313, 318, 315, 313, 310, 310,
    305, 310, 320, 325, 330, 335, 320, 315, 305, 300,
    303, 305, 308, 305, 310, 300, 290, 310, 325, 330,
    355, 10, 20, 28, 295, 310, 320, 340, 320, 310,
    300, 295, 295, 300, 302, 295, 300, 305, 315, 325,
    355, 355, 345, 350, 55, 320, 357, 360, 355, 358,
    345, 325, 315, 300, 315, 325, 335, 265, 285, 290,
    290, 295, 290, 300, 305, 310, 300, 315, 300, 295,
    295, 290, 295, 300, 330, 335, 300, 275, 310, 325,
    340, 350, 345, 280, 290, 280, 295, 315, 300, 295,
    300, 290, 300, 290, 295, 293, 295, 300, 305, 300,
    320, 330, 310, 305, 290, 310, 315, 310, 305, 320,
    300, 295, 303, 310, 315, 300, 315, 320, 312, 310,
    325, 330, 335, 345, 335, 300, 305, 320, 330, 340,
    360, 270, 275, 320, 345, 330, 315, 330, 325, 320,
    355, 290, 300, 340, 335, 320, 320, 315, 318, 320,
    310, 305, 320, 300, 290, 305, 310, 315, 310, 305,
    315, 320, 310, 295, 300, 300, 310, 320, 330, 355,
    340, 335, 330, 330, 340, 330, 345, 355, 350, 272,
    290, 305, 310, 315, 320, 330, 300, 310, 310, 295,
    300, 298, 298, 300, 300, 320, 305, 305, 310, 315,
    310, 310, 295, 305, 310, 310, 300, 290, 300, 300,
    300, 305, 305, 310, 312, 315, 318, 320, 330, 345,
    340, 330, 340, 320, 290, 310, 310, 310, 312, 310,
    320, 275, 280, 295, 325, 345, 330, 290, 300, 305,
    295, 300, 310, 320, 315, 325, 345, 355, 340, 325,
    310, 330, 345, 355, 358, 320, 320, 315, 350, 360,
    350, 345, 335, 325, 322, 320, 318, 315, 320, 300,
    290, 300, 265, 290, 305, 310, 330, 295, 300, 305,
    300, 305, 312, 315, 325, 345, 355, 330, 315, 320,
    320, 320, 310, 315, 310, 305, 305, 310, 325, 300,
    310, 335, 340, 350, 325, 330, 300, 310, 295, 295,
    305, 300, 300, 305, 305, 310, 315, 320, 335, 340,
    340, 290, 285, 320, 320, 300, 325, 330, 330, 335,
    340, 345, 330, 310, 280, 295, 285, 310, 320, 320,
    295, 295, 300, 305, 315, 350, 325, 305, 330, 335,
    310, 290, 285, 300, 310, 315, 315, 310, 315, 315,
    315, 325, 340, 355, 330, 315, 305, 320, 340, 355,
    30, 55, 60, 230, 300, 345, 195, 190,
]
dir_model = [
    295, 285, 275, 268, 285, 290, 293, 300, 300, 301,
    303, 302, 298, 290, 300, 285, 290, 285, 293, 302,
    300, 290, 287, 295, 305, 302, 307, 310, 307, 303,
    305, 296, 315, 312, 308, 300, 290, 295, 290, 298,
    290, 300, 305, 310, 320, 290, 360, 300, 160, 150,
    140, 120, 340, 320, 310, 295, 130, 140, 160, 210,
    265, 285, 290, 300, 305, 310, 310, 305, 305, 300,
    297, 300, 315, 318, 325, 330, 318, 310, 300, 295,
    300, 303, 303, 305, 300, 298, 290, 300, 310, 340,
    360, 5, 15, 25, 300, 300, 310, 330, 315, 300,
    295, 290, 295, 300, 298, 292, 298, 300, 308, 315,
    345, 340, 345, 340, 50, 330, 350, 355, 355, 355,
    340, 320, 310, 295, 310, 320, 330, 280, 275, 285,
    283, 285, 285, 290, 295, 300, 295, 305, 300, 295,
    290, 285, 290, 295, 325, 330, 295, 275, 310, 320,
    330, 340, 350, 290, 295, 275, 300, 320, 305, 290,
    295, 290, 285, 280, 290, 288, 290, 290, 298, 295,
    295, 290, 300, 295, 300, 305, 310, 305, 300, 315,
    295, 290, 298, 305, 310, 300, 310, 310, 310, 305,
    320, 325, 330, 340, 330, 310, 315, 325, 330, 330,
    340, 250, 265, 330, 340, 325, 320, 335, 320, 310,
    305, 300, 290, 335, 330, 315, 310, 305, 310, 310,
    300, 295, 300, 305, 295, 300, 305, 300, 300, 295,
    305, 310, 300, 290, 295, 295, 300, 310, 320, 315,
    325, 330, 325, 320, 330, 325, 330, 350, 355, nan,
    295, 295, 300, 305, 310, 300, 300, 305, 300, 290,
    290, 295, 292, 293, 290, 295, 300, 300, 305, 310,
    305, 300, 290, 300, 305, 300, 295, 290, 295, 298,
    300, 302, 300, 305, 305, 305, 310, 315, 325, 340,
    335, 335, 345, 330, 300, 305, 305, 300, 305, 305,
    315, 270, 275, 285, 320, 340, 325, 290, 300, 305,
    300, 300, 305, 315, 310, 320, 340, 355, 345, 330,
    320, 335, 340, 360, 355, 330, 315, 325, 345, 355,
    345, 350, 320, 318, 315, 320, 320, 315, 320, 305,
    300, 298, 280, 295, 300, 310, 300, 295, 298, 300,
    300, 305, 310, 315, 320, 340, 355, 320, 310, 315,
    320, 315, 305, 310, 305, 302, 305, 305, 320, 290,
    310, 330, 345, 345, 320, 325, 310, 305, 295, 300,
    305, 300, 303, 305, 310, 310, 315, 318, 320, 325,
    330, 300, 295, 320, 325, 315, 320, 325, 325, 330,
    335, 345, 335, 300, 290, 295, 290, 310, 320, 310,
    285, 290, 295, 300, 310, 340, 320, 305, 320, 330,
    305, 295, 290, 295, 300, 310, 310, 305, 310, 310,
    308, 315, 330, 340, 320, 310, 300, 325, 345, 355,
    40, 75, 88, 350, 320, 330, 260, 180,
]

# scattered direction readings away from the main band
t_dir_buoy_x = [
    33.4, 33.6, 41.7, 42.3, 43.2, 43.5, 44.5, 44.7, 45, 45.3, 45.6, 47.5,
    48.2, 48.7, 49.2, 78.5, 78.9, 79.2, 95.3, 95.8, 96.5, 97, 97.5, 97.8,
    98.3, 98.8, 99.4, 100, 106.3, 106.7, 106.8, 107, 107.2, 107.6, 128.4,
    128.5, 135.3, 137.7, 141.3, 141.5, 141.8, 142, 142.2, 165.5, 169.6,
    169.7, 169.9, 170, 170.1, 195.3, 195.6, 195.9, 204.3, 247.9, 248,
    248.1, 251.2, 251.4, 251.6, 251.8, 252.3, 252.4, 252.5, 266, 269.8,
    270.8, 271.2, 271.5, 271.8, 272, 279.8, 283.4, 283.6, 283.8, 292,
    292.2, 292.4, 306.2, 306.3, 332.8, 332.9, 333, 356.7, 357, 361.5, 362,
    362.3, 362.5, 362.8, 363, 363.4, 364, 364.2, 365, 365.3,
]
dir_buoy_x = [
    240, 195, 290, 257, 5, 250, 60, 115, 40, 15, 100, 190,
    175, 110, 200, 5, 15, 30, 5, 15, 20, 40, 65, 30,
    5, 0, 0, 2, 40, 55, 80, 70, 150, 240, 230,
    205, 235, 275, 65, 50, 30, 5, 10, 5, 90,
    80, 55, 40, 20, 3, 5, 2, 275, 260, 240,
    225, 60, 45, 25, 30, 250, 215, 200, 5, 3,
    10, 30, 20, 45, 5, 248, 30, 10, 3, 20,
    8, 3, 18, 3, 257, 225, 240, 10, 3, 20, 40,
    65, 290, 160, 200, 150, 140, 115, 25, 35,
]
t_dir_model_x = [
    33.5, 33.6, 42.4, 42.5, 42.4, 42.6, 43.8, 44.2, 43.9, 47.8, 48.5, 49.4,
    78.5, 79, 95.4, 95.8, 96.4, 97.3, 97.8, 98.3, 98.8, 99.3, 100, 106.5,
    106.8, 106.3, 106.5, 105.5, 127.8, 128, 128.2, 127.9, 135.3, 135.4,
    165.2, 165.6, 166, 170, 169.9, 204.5, 204.7, 204.9, 205, 204.6, 241.3,
    250.5, 252.5, 260.2, 260.5, 265.3, 265.6, 271, 271.3, 271.6, 306.2,
    306.4, 341.4, 341.5, 341.6, 361, 361.5, 362, 362.4, 362.8, 363.5,
    364.8, 365.2, 365.8,
]
dir_model_x = [
    240, 215, 240, 220, 20, 56, 60, 20, 5, 165, 125, 180,
    10, 20, 20, 10, 3, 45, 30, 15, 20, 12, 25, 45,
    60, 20, 245, 355, 50, 30, 10, 3, 247, 265,
    245, 265, 280, 15, 5, 5, 20, 35, 45, 0, 2,
    2, 5, 5, 10, 5, 12, 25, 40, 45, 8,
    3, 45, 25, 5, 10, 30, 55, 80, 90, 320,
    240, 200, 170,
]

months = ["Jan", "Feb", "Mar", "Apr", "May", "Jun",
          "Jul", "Aug", "Sep", "Oct", "Nov", "Dec"]

BUOY_COLOR = "#00008b"
MODEL_COLOR = "#ff0000"


def long_lines(t, buoy, model):
    """Long-form frame; each NaN gap starts a new segment so lines break there."""
    parts = []
    for name, vals in (("Buoy", buoy), ("Modelo", model)):
        d = pd.DataFrame({"t": t, "v": vals})
        d["seg"] = d["v"].isna().cumsum()
        d = d.dropna()
        d["src"] = name
        parts.append(d)
    return pd.concat(parts, ignore_index=True)


def long_points(t, buoy, model):
    b = pd.DataFrame({"t": t + t_dir_buoy_x, "v": buoy + dir_buoy_x, "src": "Buoy"})
    m = pd.DataFrame({"t": t + t_dir_model_x, "v": model + dir_model_x, "src": "Modelo"})
    return pd.concat([b, m], ignore_index=True).dropna()


sns.set_style("white")
plt.rcParams["font.family"] = ["DejaVu Sans"]
plt.rcParams["text.color"] = "black"
plt.rcParams["axes.labelcolor"] = "black"

fig = plt.figure(figsize=(11.9, 9.86), dpi=100)
left, width = 67 / 1190, (1183 - 67) / 1190
ax_hs = fig.add_axes([left, 1 - 334 / 986, width, 262 / 986])
ax_tp = fig.add_axes([left, 1 - 611 / 986, width, 263 / 986])
ax_dir = fig.add_axes([left, 1 - 886 / 986, width, 262 / 986])

palette = {"Buoy": BUOY_COLOR, "Modelo": MODEL_COLOR}

for ax, (t, b, m) in ((ax_hs, (t_hs, hs_buoy, hs_model)),
                      (ax_tp, (t_tp, tp_buoy, tp_model))):
    sns.lineplot(data=long_lines(t, b, m), x="t", y="v", hue="src", units="seg",
                 estimator=None, palette=palette, linewidth=1.1, legend=False, ax=ax)

sns.scatterplot(data=long_points(t_dir, dir_buoy, dir_model), x="t", y="v",
                hue="src", palette=palette, s=7, linewidth=0, legend=False, ax=ax_dir)

ax_hs.set_ylim(-0.1, 12.15)
ax_hs.set_yticks(np.arange(0, 13, 2))
ax_tp.set_ylim(1.6, 23.2)
ax_tp.set_yticks(np.arange(2.5, 23, 2.5))
ax_dir.set_ylim(-16, 379)
ax_dir.set_yticks(np.arange(0, 351, 50))

ax_hs.set_ylabel("$H_S$ [m]", fontsize=9, fontweight="bold", labelpad=5)
ax_tp.set_ylabel("$T_P$ [s]", fontsize=9, fontweight="bold", labelpad=5)
ax_dir.set_ylabel(r"$\theta_m$ [°]", fontsize=9, fontweight="bold", labelpad=5)

for ax in (ax_hs, ax_tp, ax_dir):
    ax.set_xlim(0, 366)
    ax.set_xticks([30.5 * k for k in range(13)])
    ax.set_xticks([30.5 * k + 16 for k in range(12)], minor=True)
    ax.set_xticklabels([])
    ax.tick_params(axis="both", which="major", direction="in", length=3,
                   width=0.8, labelsize=7, colors="#222222", labelcolor="black")
    ax.tick_params(axis="x", which="minor", length=0)
    ax.grid(True, which="major", color="#b0b0b0", linewidth=0.8)
    ax.set_axisbelow(True)
    ax.set_xlabel("")
    for sp in ax.spines.values():
        sp.set_color("#333333")
        sp.set_linewidth(1.0)

ax_dir.set_xticklabels(months, minor=True, fontsize=9, fontweight="bold")
ax_dir.tick_params(axis="x", which="minor", pad=6)

fig.text(606 / 1190, 1 - 18 / 986,
         "Year: 2008, Bilbao-Vizcaya Ext buoy validation with SAT_CORR CSIRO",
         ha="center", va="center", fontsize=17.3, fontweight="bold", color="black")

handles = [Line2D([], [], color=BUOY_COLOR, linewidth=0.9),
           Line2D([], [], color=MODEL_COLOR, linewidth=0.9)]
fig.legend(handles, ["Buoy", "Modelo"], ncol=2, loc="center",
           bbox_to_anchor=(887 / 1190, 1 - 933 / 986), fontsize=10,
           frameon=True, edgecolor="#cccccc", handlelength=2.0)

fig.savefig("out.png", dpi=100)
